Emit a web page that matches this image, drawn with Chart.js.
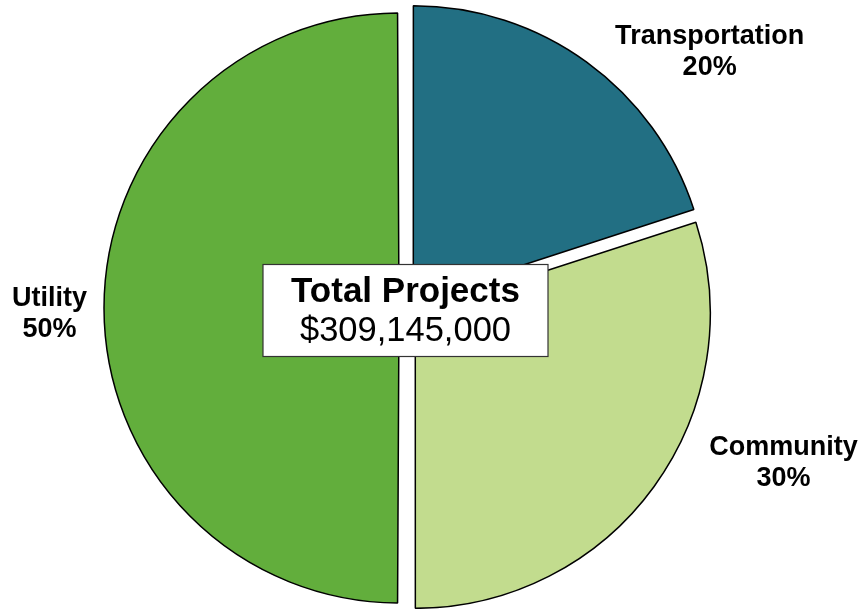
<!DOCTYPE html>
<html>
<head>
<meta charset="utf-8">
<script src="https://cdn.jsdelivr.net/npm/chart.js@4/dist/chart.umd.min.js"></script>
<style>
  html, body { margin: 0; padding: 0; background: #ffffff; }
  #wrap { width: 861px; height: 609px; position: relative; }
</style>
</head>
<body>
<div id="wrap"><canvas id="c" width="861" height="609"></canvas></div>
<script>
const categories = ['Transportation', 'Community', 'Utility'];
const shares = [20, 30, 50];
const sliceColors = ['#226F83', '#C2DC8E', '#62AE3C'];
const centerTitle = 'Total Projects';
const centerValue = '$309,145,000';
// label anchor, as fraction of the pie radius from the pie centre
const labelAnchors = [[1.024, -0.868], [1.275, 0.525], [-1.217, 0.02]];

const FONT = '"Liberation Sans", Arial, sans-serif';
const SLICE_OFFSET = 36;

// keep every exploded slice at the same radius (Chart.js enlarges wide slices when offset)
const equalRadiusPlugin = {
  id: 'equalRadius',
  afterDatasetUpdate(chart, args) {
    args.meta.data.forEach(arc => {
      const circ = arc.endAngle - arc.startAngle;
      const fix = 1 - Math.sin(Math.min(Math.PI, circ));
      arc.outerRadius = arc.outerRadius - (SLICE_OFFSET / 4) * fix;
    });
  }
};

const labelPlugin = {
  id: 'sliceLabels',
  afterDraw(chart) {
    const ctx = chart.ctx;
    const meta = chart.getDatasetMeta(0);
    const arc0 = meta.data[0];
    const cx = arc0.x, cy = arc0.y, r = arc0.outerRadius;
    ctx.save();
    ctx.fillStyle = '#000';
    ctx.textAlign = 'center';
    ctx.textBaseline = 'middle';
    ctx.font = 'bold 27px ' + FONT;
    categories.forEach((name, i) => {
      const x = cx + labelAnchors[i][0] * r;
      const y = cy + labelAnchors[i][1] * r;
      ctx.fillText(name, x, y - 15.5);
      ctx.fillText(shares[i] + '%', x, y + 15.5);
    });
    // centre box
    const bw = 285, bh = 92;
    const bx = cx - 2.5 - bw / 2, by = cy + 2.5 - bh / 2;
    ctx.fillStyle = '#ffffff';
    ctx.fillRect(bx, by, bw, bh);
    ctx.strokeStyle = '#333333';
    ctx.lineWidth = 1.2;
    ctx.strokeRect(bx, by, bw, bh);
    ctx.fillStyle = '#000';
    ctx.font = 'bold 35px ' + FONT;
    ctx.fillText(centerTitle, cx - 2.5, cy - 16);
    ctx.font = '34.5px ' + FONT;
    ctx.fillText(centerValue, cx - 2.5, cy + 23);
    ctx.restore();
  }
};

new Chart(document.getElementById('c'), {
  type: 'pie',
  data: {
    labels: categories,
    datasets: [{
      data: shares,
      backgroundColor: sliceColors,
      borderColor: '#000000',
      borderWidth: 1.5,
      offset: SLICE_OFFSET,
      hoverOffset: 0
    }]
  },
  options: {
    responsive: false,
    animation: false,
    radius: 295,
    layout: { padding: { left: 0, right: 45, top: 7, bottom: 0 } },
    plugins: {
      legend: { display: false },
      tooltip: { enabled: false }
    },
    events: []
  },
  plugins: [equalRadiusPlugin, labelPlugin]
});
</script>
</body>
</html>
